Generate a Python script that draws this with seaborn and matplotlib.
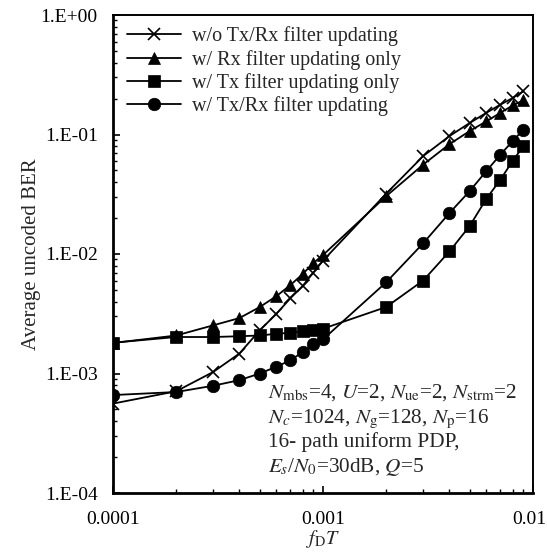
import numpy as np
import pandas as pd
import matplotlib
matplotlib.use("Agg")
import matplotlib.pyplot as plt
import matplotlib.transforms as mtransforms
import seaborn as sns
from matplotlib.ticker import LogLocator, FixedLocator, FixedFormatter, NullFormatter

sns.set_theme(style="ticks")
plt.rcParams['font.family'] = ['Liberation Serif', 'DejaVu Serif']
plt.rcParams['mathtext.fontset'] = 'stix'

fdT = [0.0001, 0.0002, 0.0003, 0.0004, 0.0005, 0.0006, 0.0007, 0.0008, 0.0009, 0.001,
       0.002, 0.003, 0.004, 0.005, 0.006, 0.007, 0.008, 0.009]

ber_none = [5.6e-4, 7.1e-4, 1.03e-3, 1.47e-3, 2.3e-3, 3.16e-3, 4.27e-3, 5.4e-3, 7.0e-3, 8.8e-3,
            0.032, 0.066, 0.097, 0.125, 0.152, 0.178, 0.202, 0.23]
ber_rx = [1.8e-3, 2.08e-3, 2.53e-3, 2.91e-3, 3.6e-3, 4.44e-3, 5.5e-3, 6.8e-3, 8.4e-3, 9.8e-3,
          0.0305, 0.056, 0.083, 0.107, 0.129, 0.152, 0.175, 0.193]
ber_tx = [1.81e-3, 2.02e-3, 2.02e-3, 2.05e-3, 2.08e-3, 2.15e-3, 2.19e-3, 2.25e-3, 2.33e-3, 2.37e-3,
          3.6e-3, 6.0e-3, 0.0105, 0.0172, 0.029, 0.042, 0.06, 0.08]
ber_txrx = [6.6e-4, 7.0e-4, 7.9e-4, 8.8e-4, 1.0e-3, 1.14e-3, 1.29e-3, 1.51e-3, 1.75e-3, 1.93e-3,
            5.8e-3, 0.0123, 0.022, 0.0337, 0.0495, 0.068, 0.088, 0.11]

labels = ["w/o Tx/Rx filter updating", "w/ Rx filter updating only",
          "w/ Tx filter updating only", "w/ Tx/Rx filter updating"]
series = [ber_none, ber_rx, ber_tx, ber_txrx]
markers = ["x", "^", "s", "o"]
msizes = [9, 9, 8.5, 9]

y_ticks = [1e-4, 1e-3, 1e-2, 1e-1, 1e0]
y_ticklabels = ["1.E-04", "1.E-03", "1.E-02", "1.E-01", "1.E+00"]
x_ticks = [1e-4, 1e-3, 1e-2]
x_ticklabels = ["0.0001", "0.001", "0.01"]

fig = plt.figure(figsize=(5.47, 5.54), dpi=100)
ax = fig.add_axes([113/547, 1-493/554, 420/547, 478/554])

for lab, ys, mk, ms in zip(labels, series, markers, msizes):
    df = pd.DataFrame({"x": fdT, "y": ys})
    sns.lineplot(data=df, x="x", y="y", ax=ax, color="black", lw=1.3,
                 marker=mk, markersize=ms, markeredgecolor="black",
                 markerfacecolor="black", markeredgewidth=1.2 if mk == "x" else 0.5,
                 label=lab)

ax.set_xscale("log")
ax.set_yscale("log")
ax.set_xlim(1e-4, 1e-2)
ax.set_ylim(1e-4, 1e0)

ax.xaxis.set_major_locator(FixedLocator(x_ticks))
ax.xaxis.set_major_formatter(FixedFormatter(x_ticklabels))
ax.xaxis.set_minor_locator(LogLocator(base=10, subs=np.arange(2, 10)))
ax.xaxis.set_minor_formatter(NullFormatter())
ax.yaxis.set_major_locator(FixedLocator(y_ticks))
ax.yaxis.set_major_formatter(FixedFormatter(y_ticklabels))
ax.yaxis.set_minor_locator(LogLocator(base=10, subs=np.arange(2, 10)))
ax.yaxis.set_minor_formatter(NullFormatter())

ax.tick_params(which="both", direction="in", colors="black", labelsize=14)
ax.tick_params(which="major", length=5, width=1.2)
ax.tick_params(which="minor", length=3, width=1.0)
ax.tick_params(axis="x", which="major", pad=13)
ax.tick_params(axis="y", which="major", pad=11)
ax.tick_params(axis="x", which="both", top=False)
ax.tick_params(axis="y", which="both", right=False)
for sp in ax.spines.values():
    sp.set_color("black")
    sp.set_linewidth(1.4)
ax.spines["bottom"].set_linewidth(2.0)
ax.spines["left"].set_linewidth(2.0)

ax.set_xlabel(r"$f_{\mathrm{D}}T$", fontsize=14.5, labelpad=0)
ax.set_ylabel("Average uncoded BER", fontsize=15, labelpad=0)

leg = ax.legend(loc="upper left", frameon=False, fontsize=14.5,
                handlelength=2.7, handletextpad=0.5, labelspacing=0.17,
                borderaxespad=0.0, bbox_to_anchor=(0.0143, 0.993))

ann_lines = [r"$N_{\mathrm{mbs}}$=4, $U$=2, $N_{\mathrm{ue}}$=2, $N_{\mathrm{strm}}$=2",
             r"$N_c$=1024, $N_{\mathrm{g}}$=128, $N_{\mathrm{p}}$=16",
             "16- path uniform PDP,",
             r"$E_s$/$N_0$=30dB, $Q$=5"]
ann_y = [0.1987, 0.1464, 0.0962, 0.0439]
ann_x = (268 - 113) / 420
for t, yy in zip(ann_lines, ann_y):
    ax.text(ann_x, yy, t, transform=ax.transAxes,
            fontsize=15.3, ha="left", va="baseline")

# keep the last x tick label inside the canvas
last = ax.get_xticklabels()[-1]
last.set_transform(last.get_transform() +
                   mtransforms.ScaledTranslation(-4 / 100, 0, fig.dpi_scale_trans))

fig.savefig("out.png", dpi=100)
